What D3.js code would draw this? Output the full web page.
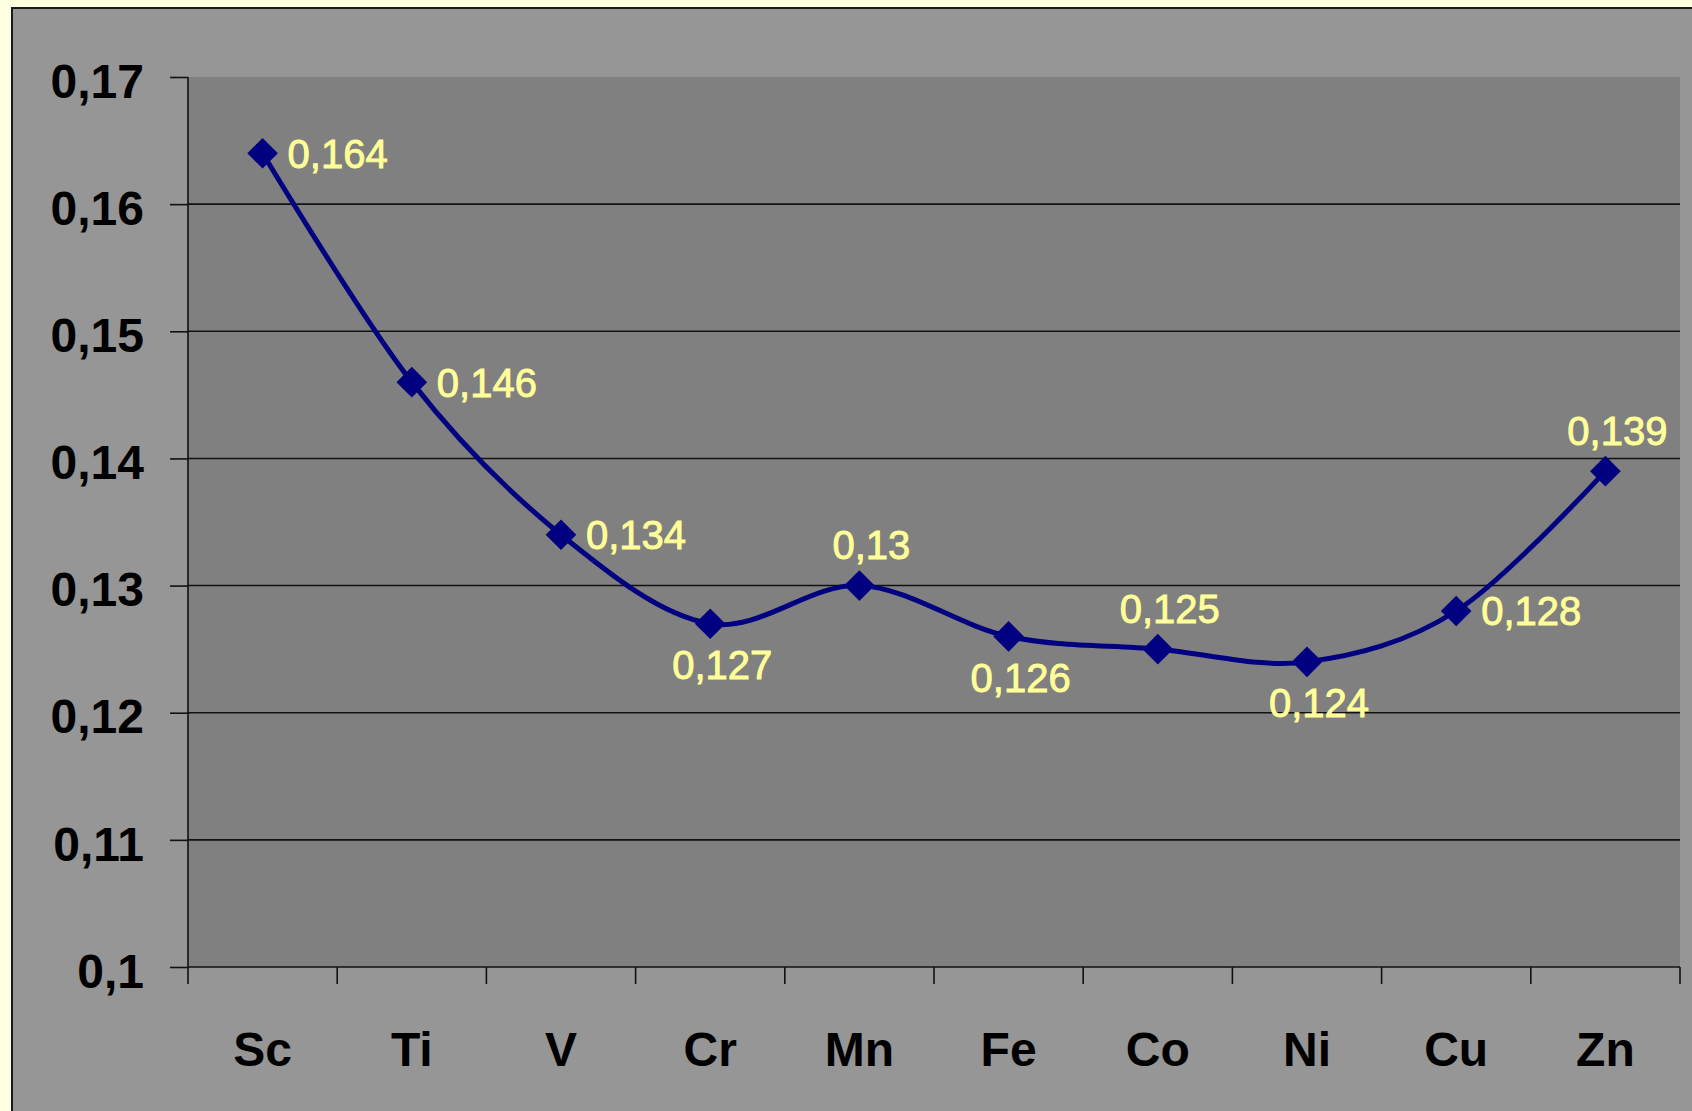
<!DOCTYPE html>
<html>
<head>
<meta charset="utf-8">
<script src="https://cdn.jsdelivr.net/npm/d3@7"></script>
<style>
  html, body { margin: 0; padding: 0; background: #ffffe1; }
  svg { display: block; }
</style>
</head>
<body>
<svg id="chart" width="1692" height="1111"></svg>
<script>
// Atomic radii of the 3d transition metals, nm
const elements = ["Sc", "Ti", "V", "Cr", "Mn", "Fe", "Co", "Ni", "Cu", "Zn"];
const radii = [0.164, 0.146, 0.134, 0.127, 0.13, 0.126, 0.125, 0.124, 0.128, 0.139];
const yTicks = [0.1, 0.11, 0.12, 0.13, 0.14, 0.15, 0.16, 0.17];
// where each value label sits relative to its marker
const labelSide = ["right", "right", "right", "below", "above", "below", "above", "below", "right", "above"];

const W = 1692, H = 1111;
const plot = { left: 188, top: 77, right: 1680, bottom: 967 };
const fmt = v => String(+v.toFixed(3)).replace(".", ",");

const svg = d3.select("#chart");

// chart area
svg.append("rect")
  .attr("x", 12).attr("y", 8)
  .attr("width", W).attr("height", H)
  .attr("fill", "#969696")
  .attr("stroke", "#1a1a1a").attr("stroke-width", 2);

// plot area
svg.append("rect")
  .attr("x", plot.left).attr("y", plot.top)
  .attr("width", plot.right - plot.left).attr("height", plot.bottom - plot.top)
  .attr("fill", "#808080");

const x = d3.scaleBand().domain(elements).range([plot.left, plot.right]).padding(0);
const y = d3.scaleLinear().domain([0.1, 0.17]).range([plot.bottom, plot.top]);
const cx = d => x(d) + x.bandwidth() / 2;

// horizontal gridlines
svg.append("g")
  .selectAll("line")
  .data(yTicks.filter(t => t > 0.1 && t < 0.17))
  .join("line")
  .attr("x1", plot.left).attr("x2", plot.right)
  .attr("y1", d => y(d)).attr("y2", d => y(d))
  .attr("stroke", "#111").attr("stroke-width", 1.6);

// y axis
const yAxis = svg.append("g")
  .attr("transform", `translate(${plot.left},0)`)
  .call(d3.axisLeft(y).tickValues(yTicks).tickFormat(fmt).tickSize(18).tickPadding(26));
yAxis.select(".domain").attr("stroke", "#111").attr("stroke-width", 1.6).attr("d", `M0,${plot.top}V${plot.bottom}`);
yAxis.selectAll(".tick line").attr("stroke", "#111").attr("stroke-width", 1.6);
yAxis.selectAll(".tick text")
  .attr("fill", "#000")
  .attr("dy", "0.42em")
  .style("font", "bold 48px 'Liberation Sans', Arial, sans-serif");

// x axis: ticks on category boundaries
const xAxisG = svg.append("g").attr("transform", `translate(0,${plot.bottom})`);
xAxisG.append("line")
  .attr("x1", plot.left).attr("x2", plot.right)
  .attr("stroke", "#111").attr("stroke-width", 1.6);
const boundaries = elements.map(d => x(d)).concat([plot.right]);
xAxisG.selectAll("line.tick")
  .data(boundaries)
  .join("line")
  .attr("class", "tick")
  .attr("x1", d => d).attr("x2", d => d)
  .attr("y1", 0).attr("y2", 17)
  .attr("stroke", "#111").attr("stroke-width", 1.6);
xAxisG.selectAll("text")
  .data(elements)
  .join("text")
  .attr("x", d => cx(d))
  .attr("y", 99)
  .attr("text-anchor", "middle")
  .attr("fill", "#000")
  .style("font", "bold 48px 'Liberation Sans', Arial, sans-serif")
  .text(d => d);

// smoothed series line
const pts = elements.map((e, i) => ({ e, v: radii[i], side: labelSide[i] }));
const line = d3.line()
  .x(d => cx(d.e))
  .y(d => y(d.v))
  .curve(d3.curveCardinal.tension(0));

svg.append("path")
  .datum(pts)
  .attr("d", line)
  .attr("fill", "none")
  .attr("stroke", "#000080")
  .attr("stroke-width", 5)
  .attr("stroke-linejoin", "round");

// diamond markers
svg.append("g")
  .selectAll("path")
  .data(pts)
  .join("path")
  .attr("d", d3.symbol().type(d3.symbolSquare).size(470))
  .attr("transform", d => `translate(${cx(d.e)},${y(d.v)}) rotate(45)`)
  .attr("fill", "#000080");

// value labels; keep the last one inside the plot's right edge
svg.append("g")
  .selectAll("text")
  .data(pts)
  .join("text")
  .attr("x", d => d.side === "right" ? cx(d.e) + 25 : Math.min(cx(d.e) + 12, plot.right - 55))
  .attr("y", d => d.side === "above" ? y(d.v) - 41 : d.side === "below" ? y(d.v) + 41 : y(d.v))
  .attr("dy", "0.36em")
  .attr("text-anchor", d => d.side === "right" ? "start" : "middle")
  .attr("fill", "#ffff99")
  .attr("stroke", "#ffff99")
  .attr("stroke-width", 0.9)
  .style("font", "40px 'Liberation Sans', Arial, sans-serif")
  .text(d => fmt(d.v));
</script>
</body>
</html>
